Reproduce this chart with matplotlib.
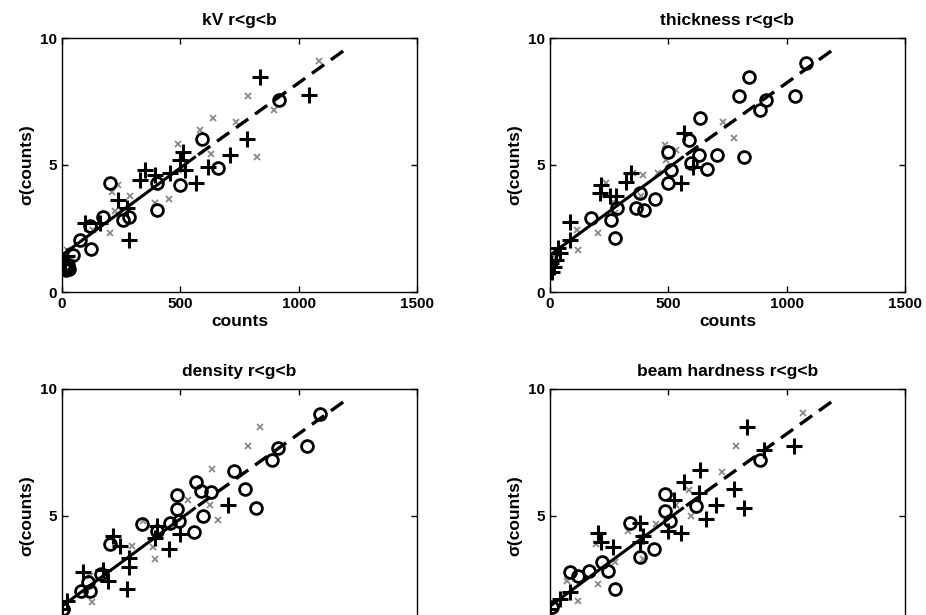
import matplotlib
matplotlib.use("Agg")
import matplotlib.pyplot as plt

plt.rcParams['font.family'] = ['Liberation Sans', 'DejaVu Sans']
plt.rcParams['font.weight'] = 'bold'

titles = ["kV r<g<b", "thickness r<g<b", "density r<g<b", "beam hardness r<g<b"]
x_ticks = [0, 500, 1000, 1500]
y_ticks = [0, 5, 10]

# ---- kV ----
kv_o_x = [203, 281, 259, 175, 118, 123, 76, 48, 400, 400, 499, 591, 661, 915, 8, 15, 22, 30, 12, 25]
kv_o_y = [4.31, 2.97, 2.84, 2.97, 2.58, 1.68, 2.05, 1.46, 3.23, 4.28, 4.22, 6.02, 4.87, 7.57, 0.95, 0.85, 1.0, 0.9, 1.1, 1.05]
kv_p_x = [838, 1042, 781, 708, 616, 567, 510, 499, 520, 457, 393, 351, 330, 281, 274, 238, 161, 97, 20, 13]
kv_p_y = [8.46, 7.74, 6.02, 5.4, 4.94, 4.31, 5.53, 5.2, 4.81, 4.7, 4.61, 4.81, 4.42, 2.05, 3.3, 3.63, 2.71, 2.73, 1.4, 1.2]
kv_x_x = [1084, 788, 636, 735, 894, 823, 629, 581, 492, 510, 450, 393, 288, 210, 238, 224, 203, 132, 20, 41]
kv_x_y = [9.08, 7.7, 6.85, 6.71, 7.17, 5.3, 5.44, 6.39, 5.83, 4.81, 3.65, 3.5, 3.76, 3.92, 4.22, 3.17, 2.31, 2.44, 1.66, 1.33]

# ---- thickness ----
th_o_x = [1080, 841, 799, 1037, 914, 887, 635, 589, 628, 704, 820, 596, 663, 498, 512, 498, 379, 445, 365, 397, 285, 257, 172, 273]
th_o_y = [9.01, 8.45, 7.7, 7.73, 7.57, 7.17, 6.85, 5.99, 5.4, 5.4, 5.3, 5.07, 4.84, 5.53, 4.81, 4.28, 3.89, 3.65, 3.3, 3.21, 3.3, 2.84, 2.9, 2.12]
th_p_x = [568, 603, 554, 343, 322, 217, 210, 252, 280, 84, 84, 35, 5, 7, 42, 15, 25]
th_p_y = [6.25, 4.94, 4.31, 4.7, 4.35, 4.22, 3.89, 3.76, 3.76, 2.77, 2.05, 1.72, 1.13, 0.8, 1.52, 1.0, 1.25]
th_x_x = [729, 778, 484, 533, 491, 456, 393, 350, 386, 266, 273, 203, 119, 112, 238, 14]
th_x_y = [6.71, 6.06, 5.8, 5.6, 5.2, 4.7, 4.61, 4.68, 3.76, 3.56, 3.1, 2.31, 1.66, 2.44, 4.28, 1.39]

# ---- density ----
de_o_x = [1089, 1035, 912, 886, 727, 775, 821, 567, 586, 630, 485, 485, 495, 457, 595, 556, 337, 400, 203, 165, 111, 118, 80, 6]
de_o_y = [9.02, 7.74, 7.68, 7.22, 6.76, 6.07, 5.33, 6.33, 6.0, 5.94, 5.81, 5.26, 4.8, 4.74, 5.0, 4.37, 4.67, 4.41, 3.89, 2.72, 2.39, 2.06, 2.06, 1.34]
de_p_x = [703, 499, 450, 400, 393, 217, 245, 281, 281, 274, 196, 172, 90, 20, 0]
de_p_y = [5.42, 4.28, 3.72, 4.61, 4.15, 4.22, 3.8, 3.33, 2.98, 2.13, 2.45, 2.89, 2.78, 1.67, 1.34]
de_x_x = [838, 788, 633, 534, 626, 661, 344, 386, 393, 295, 125, 118]
de_x_y = [8.5, 7.74, 6.85, 5.63, 5.42, 4.84, 4.8, 3.76, 3.3, 3.83, 1.6, 2.65]

# ---- beam hardness ----
bh_o_x = [887, 484, 484, 505, 617, 336, 379, 439, 221, 245, 165, 84, 119, 273, 7]
bh_o_y = [7.19, 5.85, 5.2, 4.8, 5.39, 4.74, 3.37, 3.72, 3.17, 2.85, 2.85, 2.78, 2.65, 2.13, 1.41]
bh_p_x = [834, 1030, 904, 634, 568, 631, 778, 701, 820, 659, 526, 498, 554, 379, 393, 379, 203, 217, 266, 84, 42, 0]
bh_p_y = [8.5, 7.77, 7.61, 6.83, 6.33, 5.91, 6.07, 5.42, 5.33, 4.87, 5.63, 4.41, 4.35, 4.74, 4.22, 3.96, 4.35, 3.96, 3.76, 2.0, 1.74, 1.34]
bh_x_x = [1068, 785, 726, 586, 596, 533, 446, 330, 196, 273, 393, 203, 119, 70]
bh_x_y = [9.05, 7.74, 6.74, 6.04, 5.0, 5.42, 4.67, 4.41, 3.89, 3.2, 3.3, 2.32, 1.67, 2.45]

# fitted noise line (solid part, dashed extrapolation)
fit_solid_x = [0, 560]
fit_solid_y = [1.45, 5.3]
fit_dash_x = [575, 1205]
fit_dash_y = [5.4, 9.6]

panels = [
    (kv_o_x, kv_o_y, kv_p_x, kv_p_y, kv_x_x, kv_x_y),
    (th_o_x, th_o_y, th_p_x, th_p_y, th_x_x, th_x_y),
    (de_o_x, de_o_y, de_p_x, de_p_y, de_x_x, de_x_y),
    (bh_o_x, bh_o_y, bh_p_x, bh_p_y, bh_x_x, bh_x_y),
]

W, H = 926, 615
fig = plt.figure(figsize=(W / 100, H / 100), dpi=100)
lefts = [62, 550]
tops = [38, 389]
aw, ah = 355, 254

for i, (ox, oy, px, py, xx, xy) in enumerate(panels):
    r, c = divmod(i, 2)
    l = lefts[c]
    t = tops[r]
    ax = fig.add_axes([l / W, 1 - (t + ah) / H, aw / W, ah / H])
    ax.plot(xx, xy, linestyle='none', marker='x', color='#8a8a8a', markersize=4.5, mew=1.3)
    ax.plot(ox, oy, linestyle='none', marker='o', markerfacecolor='none', markeredgecolor='black',
            markersize=8.5, mew=2.0)
    ax.plot(px, py, linestyle='none', marker='+', color='black', markersize=11, mew=2.2)
    ax.plot(fit_solid_x, fit_solid_y, color='black', linewidth=2.2)
    ax.plot(fit_dash_x, fit_dash_y, color='black', linewidth=2.4, dashes=(4.5, 2.5))
    ax.set_xlim(0, 1500)
    ax.set_ylim(0, 10)
    ax.set_xticks(x_ticks)
    ax.set_yticks(y_ticks)
    ax.tick_params(direction='in', top=True, right=True, length=4, labelsize=11, width=1)
    for s in ax.spines.values():
        s.set_linewidth(1.0)
    ax.set_title(titles[i], fontsize=12.5, fontweight='bold', pad=9)
    ax.set_ylabel('σ(counts)', fontsize=12.5, fontweight='bold', labelpad=4)
    if r == 0:
        ax.set_xlabel('counts', fontsize=12.5, fontweight='bold', labelpad=2)
    else:
        # bottom row: the page is cut off before the x tick labels and the 0 label
        ax.tick_params(labelbottom=False)
        ax.set_yticks(y_ticks[1:])
    for lab in ax.get_xticklabels() + ax.get_yticklabels():
        lab.set_fontweight('bold')

fig.savefig('out.png', dpi=100)
